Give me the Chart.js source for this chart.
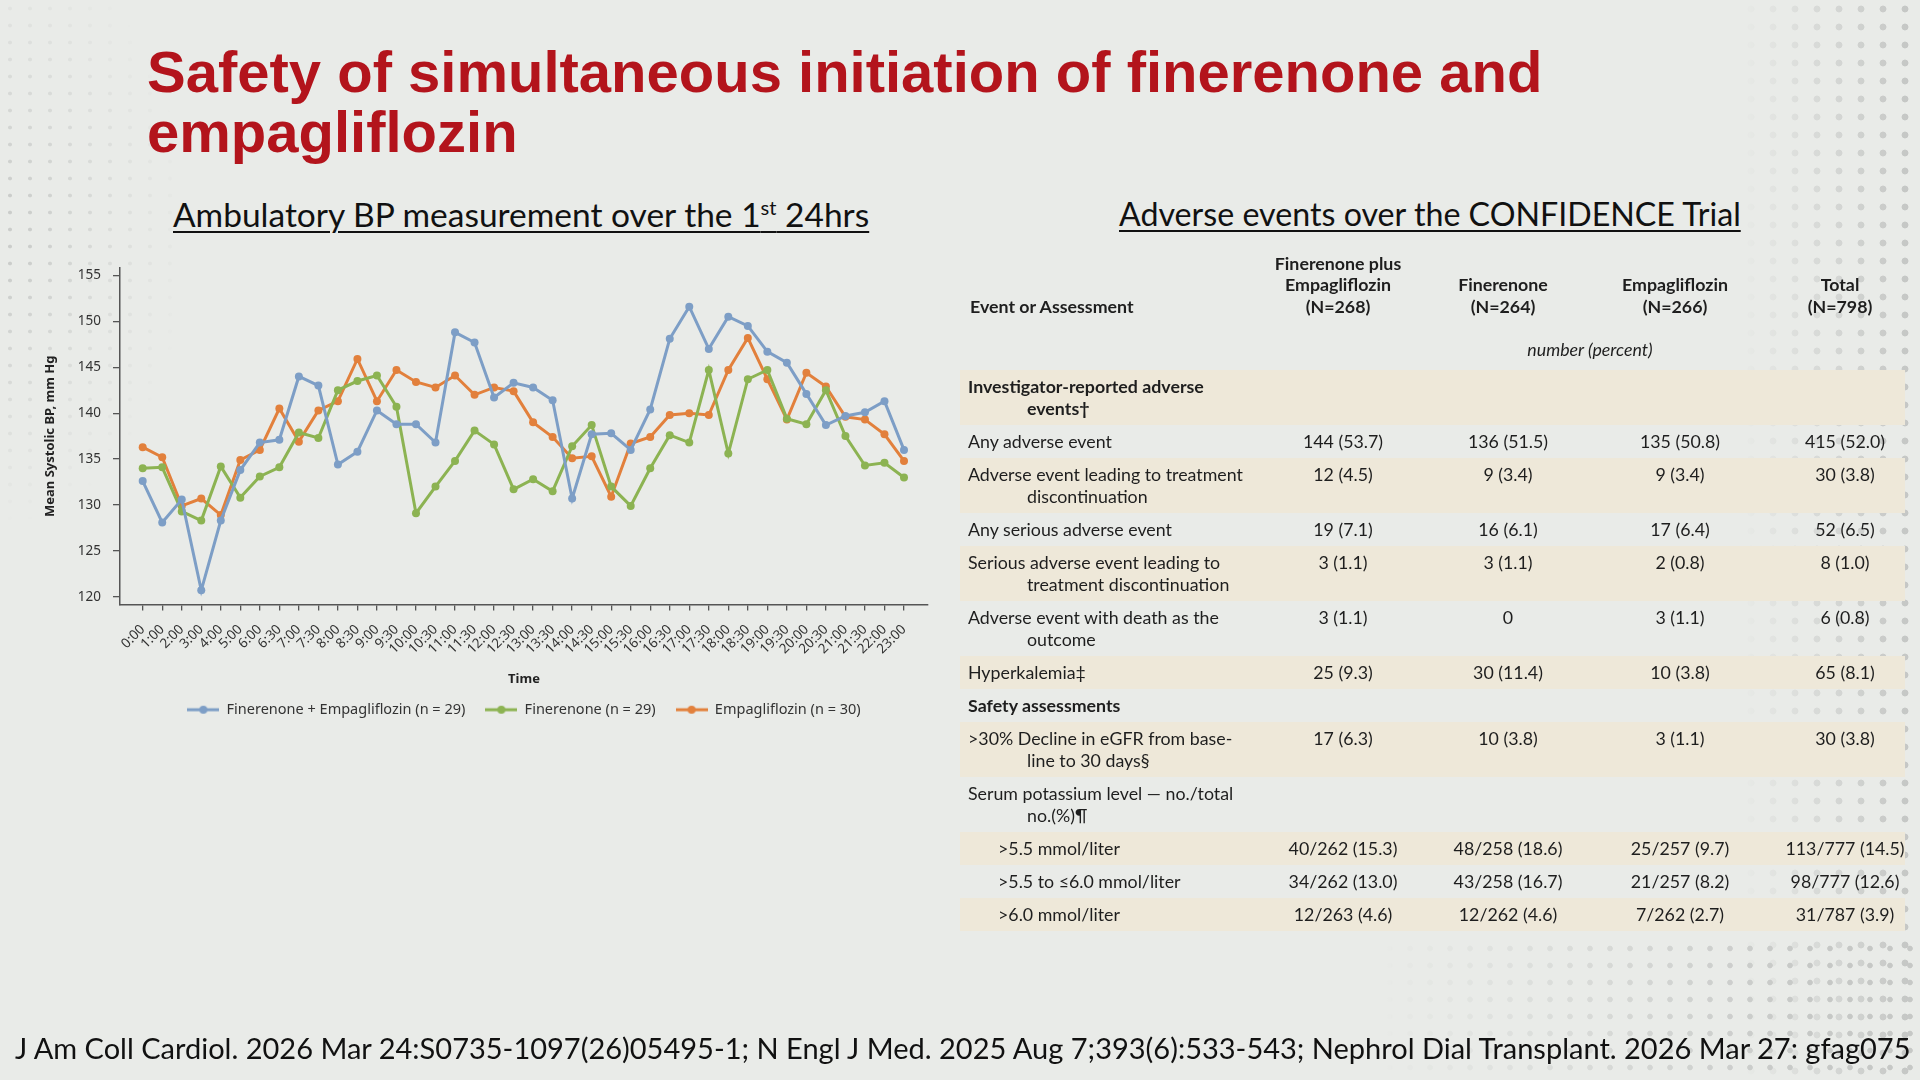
<!DOCTYPE html>
<html>
<head>
<meta charset="utf-8">
<script src="https://cdn.jsdelivr.net/npm/chart.js@4.4.1/dist/chart.umd.min.js"></script>
<style>
html, body { margin: 0; padding: 0; }
body { width: 1920px; height: 1080px; overflow: hidden; position: relative; background: #e9ebe8; font-family: Lato, "Noto Sans", sans-serif; color: #1e1e1e; }
.dots { position: absolute; pointer-events: none; }
#dotsTL { left: 0; top: 0; width: 300px; height: 520px; background-image: radial-gradient(circle, #cbcdcb 1.6px, transparent 2.2px); background-size: 20px 17px;
  -webkit-mask-image: radial-gradient(ellipse 90% 80% at 0% 45%, #000 10%, transparent 70%); mask-image: radial-gradient(ellipse 90% 80% at 0% 45%, #000 10%, transparent 70%); }
#dotsR { left: 1740px; top: 0; width: 180px; height: 1080px; background-image: radial-gradient(circle, #c2c4c2 3px, transparent 3.8px); background-size: 22px 18px;
  -webkit-mask-image: linear-gradient(to right, transparent 0%, rgba(0,0,0,.5) 50%, #000 100%); mask-image: linear-gradient(to right, transparent 0%, rgba(0,0,0,.5) 50%, #000 100%); }
#dotsBR { left: 1380px; top: 940px; width: 540px; height: 140px; background-image: radial-gradient(circle, #c6c8c6 2.4px, transparent 3.2px); background-size: 20px 17px;
  -webkit-mask-image: linear-gradient(to right, transparent 0%, #000 80%); mask-image: linear-gradient(to right, transparent 0%, #000 80%); }
#title { position: absolute; left: 147px; top: 42px; margin: 0; font-family: "Liberation Sans", Arial, sans-serif; font-weight: bold; font-size: 58px; line-height: 60px; color: #b3141c; }
.sub { position: absolute; line-height: 1.2; text-decoration: underline; text-decoration-thickness: 2px; text-underline-offset: 4px; color: #111; white-space: nowrap; }
.sub sup { font-size: 0.6em; line-height: 0; }
#subL { left: 173px; top: 194px; font-size: 33.5px; }
#subR { left: 1119px; top: 195px; font-size: 32.2px; }
#chartBox { position: absolute; left: 30px; top: 248px; }
#table { position: absolute; left: 960px; top: 0; width: 945px; height: 1080px; font-size: 17.8px; line-height: 21.5px; }
.row { position: absolute; left: 0; width: 945px; }
.lbl { position: absolute; left: 8px; top: 6px; white-space: nowrap; }
.lbl div.cont { padding-left: 59px; }
.val { position: absolute; top: 6px; transform: translateX(-50%); white-space: nowrap; }
.head { position: absolute; transform: translateX(-50%); text-align: center; font-weight: bold; white-space: nowrap; }
#foot { position: absolute; left: 15px; top: 1031px; font-size: 29px; line-height: 1.2; white-space: nowrap; color: #111; }
</style>
</head>
<body>
<div class="dots" id="dotsTL"></div>
<div class="dots" id="dotsR"></div>
<div class="dots" id="dotsBR"></div>

<h1 id="title">Safety of simultaneous initiation of finerenone and<br>empagliflozin</h1>
<div class="sub" id="subL">Ambulatory BP measurement over the 1<sup>st</sup> 24hrs</div>
<div class="sub" id="subR">Adverse events over the CONFIDENCE Trial</div>

<div id="chartBox"><canvas id="bpChart" width="988" height="484"></canvas></div>
<div id="table"></div>
<div id="foot">J Am Coll Cardiol. 2026 Mar 24:S0735-1097(26)05495-1; N Engl J Med. 2025 Aug 7;393(6):533-543; Nephrol Dial Transplant. 2026 Mar 27: gfag075</div>

<script>
// chart data
const timeLabels = ['0:00', '1:00', '2:00', '3:00', '4:00', '5:00', '6:00', '6:30', '7:00', '7:30',
    '8:00', '8:30', '9:00', '9:30', '10:00', '10:30', '11:00', '11:30', '12:00', '12:30',
    '13:00', '13:30', '14:00', '14:30', '15:00', '15:30', '16:00', '16:30', '17:00', '17:30',
    '18:00', '18:30', '19:00', '19:30', '20:00', '20:30', '21:00', '21:30', '22:00', '23:00'];
const yTicks = [120, 125, 130, 135, 140, 145, 150, 155];

const comboBP = [132.6, 128.1, 130.6, 120.7, 128.3, 133.8, 136.8, 137.1, 144.0, 143.0,
    134.4, 135.8, 140.3, 138.8, 138.8, 136.8, 148.8, 147.7, 141.7, 143.3,
    142.8, 141.4, 130.7, 137.7, 137.8, 136.0, 140.4, 148.1, 151.6, 147.0,
    150.5, 149.5, 146.7, 145.5, 142.1, 138.7, 139.7, 140.1, 141.3, 136.0];
const fineBP = [134.0, 134.1, 129.3, 128.3, 134.2, 130.8, 133.1, 134.1, 137.9, 137.3,
    142.5, 143.5, 144.1, 140.7, 129.1, 132.0, 134.8, 138.1, 136.6, 131.7,
    132.8, 131.5, 136.4, 138.7, 132.0, 129.9, 134.0, 137.6, 136.8, 144.7,
    135.6, 143.7, 144.7, 139.4, 138.8, 142.5, 137.5, 134.3, 134.6, 133.0];
const empaBP = [136.3, 135.2, 129.9, 130.7, 128.9, 134.9, 136.0, 140.5, 136.9, 140.3,
    141.3, 145.9, 141.3, 144.7, 143.4, 142.8, 144.1, 142.0, 142.8, 142.4,
    139.0, 137.4, 135.1, 135.3, 130.9, 136.7, 137.4, 139.8, 140.0, 139.8,
    144.7, 148.2, 143.7, 139.3, 144.4, 142.9, 139.6, 139.3, 137.7, 134.8];

const seriesNames = ['Finerenone + Empagliflozin (n = 29)', 'Finerenone (n = 29)', 'Empagliflozin (n = 30)'];
const seriesColors = ['#7d9ec6', '#8cb352', '#e2803c'];

// table data
const tableHeads = [['Finerenone plus', 'Empagliflozin', '(N=268)'], ['Finerenone', '(N=264)'], ['Empagliflozin', '(N=266)'], ['Total', '(N=798)']];
const eventLabels = [
    ['Investigator-reported adverse', 'events†'],
    ['Any adverse event'],
    ['Adverse event leading to treatment', 'discontinuation'],
    ['Any serious adverse event'],
    ['Serious adverse event leading to', 'treatment discontinuation'],
    ['Adverse event with death as the', 'outcome'],
    ['Hyperkalemia‡'],
    ['Safety assessments'],
    ['>30% Decline in eGFR from base-', 'line to 30 days§'],
    ['Serum potassium level — no./total', 'no.(%)¶'],
    ['>5.5 mmol/liter'],
    ['>5.5 to ≤6.0 mmol/liter'],
    ['>6.0 mmol/liter']
];
const comboVals = ['', '144 (53.7)', '12 (4.5)', '19 (7.1)', '3 (1.1)', '3 (1.1)', '25 (9.3)', '', '17 (6.3)', '', '40/262 (15.3)', '34/262 (13.0)', '12/263 (4.6)'];
const fineVals = ['', '136 (51.5)', '9 (3.4)', '16 (6.1)', '3 (1.1)', '0', '30 (11.4)', '', '10 (3.8)', '', '48/258 (18.6)', '43/258 (16.7)', '12/262 (4.6)'];
const empaVals = ['', '135 (50.8)', '9 (3.4)', '17 (6.4)', '2 (0.8)', '3 (1.1)', '10 (3.8)', '', '3 (1.1)', '', '25/257 (9.7)', '21/257 (8.2)', '7/262 (2.7)'];
const totalVals = ['', '415 (52.0)', '30 (3.8)', '52 (6.5)', '8 (1.0)', '6 (0.8)', '65 (8.1)', '', '30 (3.8)', '', '113/777 (14.5)', '98/777 (12.6)', '31/787 (3.9)'];
const sectionRows = [0, 7];
const subRows = [10, 11, 12];

// build the table
const table = document.getElementById('table');
const colX = [383, 548, 720, 885];
const headLeft = document.createElement('div');
headLeft.className = 'head';
headLeft.style.cssText = 'left:10px;top:296px;transform:none;text-align:left';
headLeft.textContent = 'Event or Assessment';
table.appendChild(headLeft);
tableHeads.forEach((lines, c) => {
    const h = document.createElement('div');
    h.className = 'head';
    h.style.left = (colX[c] - 5) + 'px';
    h.style.top = (317 - lines.length * 21.5) + 'px';
    h.innerHTML = lines.join('<br>');
    table.appendChild(h);
});
const unit = document.createElement('div');
unit.className = 'head';
unit.style.cssText = 'left:630px;top:339px;font-weight:normal;font-style:italic';
unit.textContent = 'number (percent)';
table.appendChild(unit);

let rowTop = 370;
eventLabels.forEach((lines, i) => {
    const h = lines.length > 1 ? 55 : 33;
    const row = document.createElement('div');
    row.className = 'row';
    row.style.top = rowTop + 'px';
    row.style.height = h + 'px';
    if (i % 2 === 0) row.style.background = '#eee8d9';
    const lbl = document.createElement('div');
    lbl.className = 'lbl';
    if (sectionRows.includes(i)) lbl.style.fontWeight = 'bold';
    if (subRows.includes(i)) lbl.style.left = '38px';
    lbl.innerHTML = lines.map((t, k) => '<div' + (k ? ' class="cont"' : '') + '>' + t.replace(/</g, '&lt;').replace(/>/g, '&gt;') + '</div>').join('');
    row.appendChild(lbl);
    [comboVals, fineVals, empaVals, totalVals].forEach((vals, c) => {
        if (!vals[i]) return;
        const v = document.createElement('div');
        v.className = 'val';
        v.style.left = colX[c] + 'px';
        v.textContent = vals[i];
        row.appendChild(v);
    });
    table.appendChild(row);
    rowTop += h;
});

// legend marker: short line with a dot
const makeMarker = (color) => {
    const c = document.createElement('canvas');
    c.width = 32;
    c.height = 12;
    const g = c.getContext('2d');
    g.strokeStyle = color;
    g.lineWidth = 3;
    g.beginPath();
    g.moveTo(0, 6);
    g.lineTo(32, 6);
    g.stroke();
    g.fillStyle = color;
    g.beginPath();
    g.arc(16, 6, 4, 0, Math.PI * 2);
    g.fill();
    return c;
};
const markers = seriesColors.map(makeMarker);

const toPoints = (arr) => arr.map((v, i) => ({ x: i, y: v }));
const makeSet = (values, k) => ({
    label: seriesNames[k],
    data: toPoints(values),
    borderColor: seriesColors[k],
    backgroundColor: seriesColors[k],
    pointBackgroundColor: seriesColors[k],
    borderWidth: 3,
    pointRadius: 4,
    pointBorderWidth: 0,
    tension: 0
});

const fontFam = '"Noto Sans", sans-serif';
const axisFont = { family: fontFam, size: 13.5 };
const ctx = document.getElementById('bpChart').getContext('2d');
const bpChart = new Chart(ctx, {
    type: 'line',
    data: {
        datasets: [makeSet(comboBP, 0), makeSet(fineBP, 1), makeSet(empaBP, 2)]
    },
    options: {
        responsive: false,
        animation: false,
        devicePixelRatio: 1,
        layout: { padding: { top: 0, right: 0, bottom: 5, left: 0 } },
        plugins: {
            tooltip: { enabled: false },
            legend: {
                position: 'bottom',
                labels: {
                    usePointStyle: true,
                    pointStyleWidth: 32,
                    boxHeight: 12,
                    padding: 20,
                    color: '#333',
                    font: { family: fontFam, size: 14.5 },
                    generateLabels: (chart) => Chart.defaults.plugins.legend.labels.generateLabels(chart)
                        .map((item, i) => Object.assign(item, { pointStyle: markers[i] }))
                }
            }
        },
        scales: {
            x: {
                type: 'linear',
                min: -1.163,
                max: 40.23,
                afterBuildTicks: (s) => { s.ticks = timeLabels.map((t, i) => ({ value: i })); },
                afterFit: (s) => { s.height = 78; },
                ticks: {
                    autoSkip: false,
                    minRotation: 45,
                    maxRotation: 45,
                    padding: 11,
                    color: '#333',
                    font: axisFont,
                    callback: (v) => timeLabels[v]
                },
                grid: { drawOnChartArea: false, drawTicks: true, tickLength: 6, color: '#555', lineWidth: 1.3 },
                border: { color: '#555', width: 1.5 },
                title: { display: true, text: 'Time', color: '#222', font: { family: fontFam, size: 13, weight: 'bold' }, padding: { top: 2, bottom: -5 } }
            },
            y: {
                min: 119.16,
                max: 155.8,
                afterBuildTicks: (s) => { s.ticks = yTicks.map(v => ({ value: v })); },
                afterFit: (s) => { s.width = 90; },
                ticks: { padding: 12, color: '#333', font: axisFont },
                grid: { drawOnChartArea: false, drawTicks: true, tickLength: 7, color: '#555', lineWidth: 1.3 },
                border: { color: '#555', width: 1.5 },
                title: { display: true, text: 'Mean Systolic BP, mm Hg', color: '#222', font: { family: fontFam, size: 13, weight: 'bold' }, padding: { top: 12, bottom: 0 } }
            },
            // empty right-hand axis, only to keep the legend centred under the plot
            spacer: {
                type: 'linear',
                position: 'right',
                grid: { display: false },
                border: { display: false },
                ticks: { display: false },
                afterFit: (s) => { s.width = 90; }
            }
        }
    }
});
</script>
</body>
</html>
